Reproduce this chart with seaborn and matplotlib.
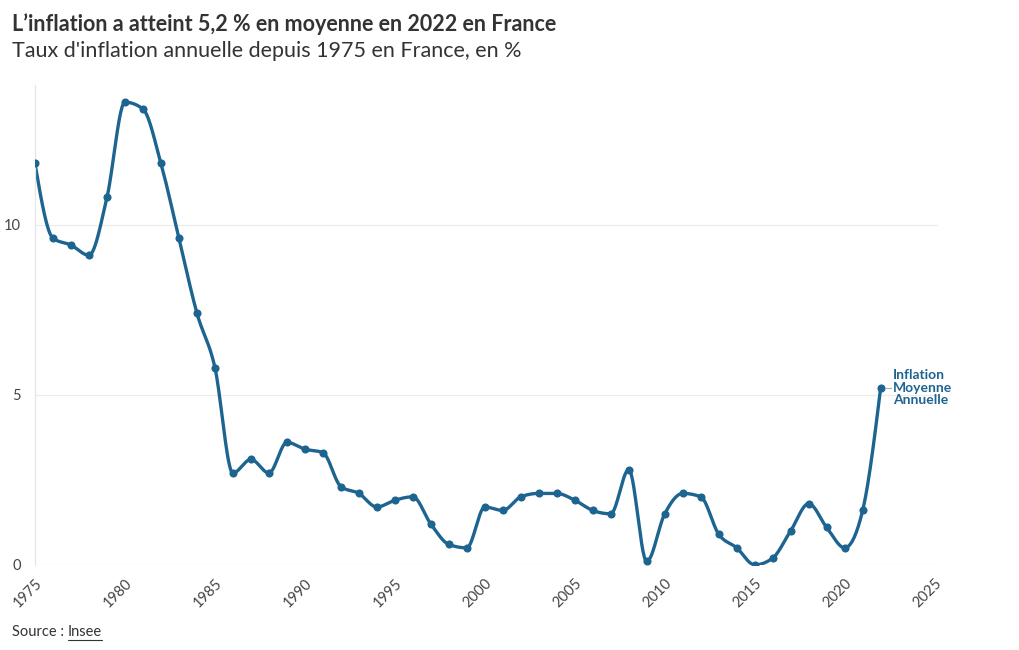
import numpy as np
import pandas as pd
import matplotlib
matplotlib.use("Agg")
import matplotlib.pyplot as plt
import seaborn as sns

years = list(range(1975, 2023))
inflation = [11.8, 9.6, 9.4, 9.1, 10.8, 13.6, 13.4, 11.8, 9.6, 7.4,
             5.8, 2.7, 3.1, 2.7, 3.6, 3.4, 3.3, 2.3, 2.1, 1.7,
             1.9, 2.0, 1.2, 0.6, 0.5, 1.7, 1.6, 2.0, 2.1, 2.1,
             1.9, 1.6, 1.5, 2.8, 0.1, 1.5, 2.1, 2.0, 0.9, 0.5,
             0.0, 0.2, 1.0, 1.8, 1.1, 0.5, 1.6, 5.2]
x_ticks = [1975, 1980, 1985, 1990, 1995, 2000, 2005, 2010, 2015, 2020, 2025]
y_ticks = [0, 5, 10]

title = "L’inflation a atteint 5,2 % en moyenne en 2022 en France"
subtitle = "Taux d'inflation annuelle depuis 1975 en France, en %"
label = "Inflation\nMoyenne\nAnnuelle"

blue = "#1d6590"
txt = "#333333"

sns.set_theme(style="white")
plt.rcParams['font.family'] = ['Lato', 'DejaVu Sans']

df = pd.DataFrame({"year": years, "value": inflation})


# monotone cubic curve (like d3 curveMonotoneX) through the points
def monotone(x, y, n=30):
    x = np.asarray(x, float)
    y = np.asarray(y, float)
    h = np.diff(x)
    s = np.diff(y) / h
    m = np.zeros_like(y)
    for i in range(1, len(x) - 1):
        p = (s[i - 1] * h[i] + s[i] * h[i - 1]) / (h[i - 1] + h[i])
        m[i] = (np.sign(s[i - 1]) + np.sign(s[i])) * min(abs(s[i - 1]), abs(s[i]), 0.5 * abs(p))
    m[0] = (3 * s[0] - m[1]) / 2
    m[-1] = (3 * s[-1] - m[-2]) / 2
    xs, ys = [], []
    for i in range(len(x) - 1):
        t = np.linspace(0, 1, n)
        h00 = 2 * t**3 - 3 * t**2 + 1
        h10 = t**3 - 2 * t**2 + t
        h01 = -2 * t**3 + 3 * t**2
        h11 = t**3 - t**2
        xs.append(x[i] + t * h[i])
        ys.append(h00 * y[i] + h10 * h[i] * m[i] + h01 * y[i + 1] + h11 * h[i] * m[i + 1])
    return np.concatenate(xs), np.concatenate(ys)


cx, cy = monotone(df["year"], df["value"])
curve = pd.DataFrame({"year": cx, "value": cy})

fig = plt.figure(figsize=(10.2, 6.5), dpi=100)
ax = fig.add_axes([0.0343, 0.131, 0.885, 0.738])

sns.lineplot(data=curve, x="year", y="value", ax=ax, color=blue, linewidth=2.4, sort=False)
sns.scatterplot(data=df, x="year", y="value", ax=ax, color=blue, s=34, edgecolor=blue, linewidth=0, zorder=5)

ax.set_xlim(1975, 2025.17)
ax.set_ylim(0, 14.1)
ax.set_xticks(x_ticks)
ax.set_yticks(y_ticks)
ax.set_xlabel("")
ax.set_ylabel("")
ax.tick_params(axis="x", labelsize=10.5, labelcolor="#444444", rotation=45, length=4, color="#e6e6e6", pad=4)
ax.tick_params(axis="y", labelsize=10.5, labelcolor="#444444", length=4, color="#e6e6e6", pad=6)
for lab in ax.get_xticklabels():
    lab.set_ha("right")
    lab.set_rotation_mode("anchor")
ax.grid(axis="y", color="#ececec", linewidth=0.9)
ax.set_axisbelow(True)
for sp in ["top", "right", "bottom"]:
    ax.spines[sp].set_visible(False)
ax.spines["left"].set_color("#e6e6e6")
ax.spines["left"].set_linewidth(0.9)

# label at last point
ax.plot([2022.3, 2022.55], [5.2, 5.2], color="#aaaaaa", linewidth=0.8, clip_on=False)
ax.text(2022.68, 5.2, label, color=blue, fontsize=10, fontweight="bold",
        va="center", ha="left", linespacing=1.05, clip_on=False)

fig.text(0.0118, 0.963, title, fontsize=15.5, fontweight="bold", color=txt, va="center")
fig.text(0.0118, 0.921, subtitle, fontsize=15.5, color=txt, va="center")

src = fig.text(0.0118, 0.028, "Source : ", fontsize=10.5, color=txt, va="center")
fig.canvas.draw()
bb = src.get_window_extent()
ins = fig.text(bb.x1 / 1020, 0.028, "Insee", fontsize=10.5, color=txt, va="center")
fig.canvas.draw()
ib = ins.get_window_extent()
fig.add_artist(plt.Line2D([ib.x0 / 1020, ib.x1 / 1020], [(ib.y0 - 1) / 650] * 2,
                          color=txt, linewidth=0.8))

fig.savefig("out.png", dpi=100)
